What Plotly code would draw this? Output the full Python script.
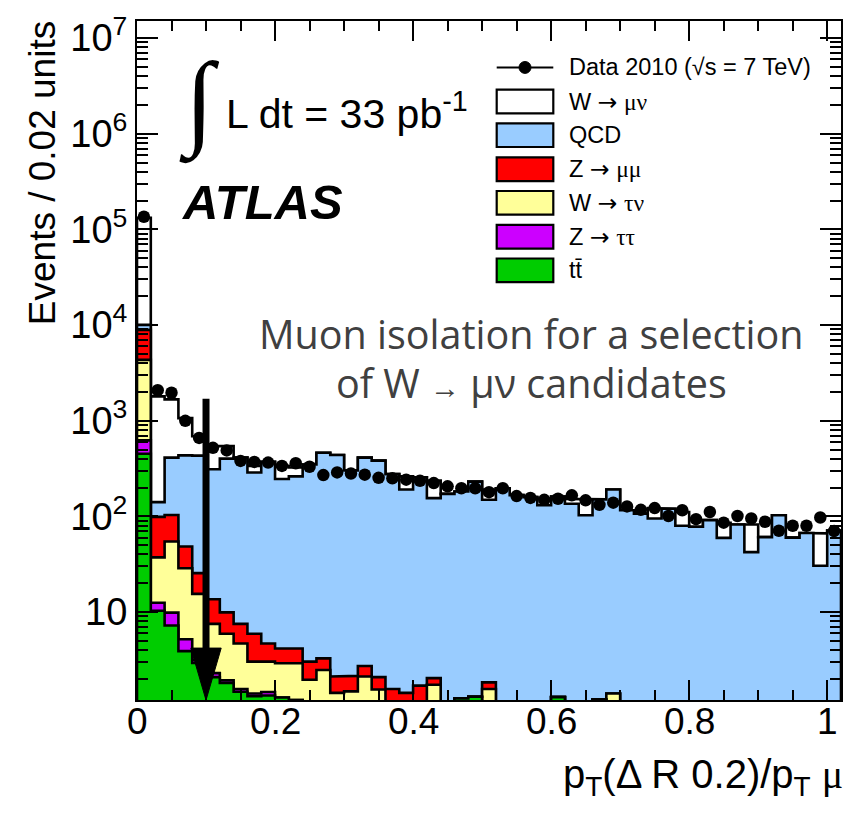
import numpy as np
import plotly.graph_objects as go

# ---------------------------------------------------------------- binning
bin_width = 0.02
n_bins = 51
edges = np.round(np.arange(n_bins + 1) * bin_width, 4)
centers = edges[:-1] + bin_width / 2

# ---------------------------------------------------------------- data (events / bin)
data = [135500, 2085, 1960, 998, 661, 521, 489, 380, 371, 365,
        337, 359, 330, 270, 288, 281, 273, 253, 250, 242,
        236, 223, 206, 197, 197, 179, 197, 163, 156, 149,
        153, 166, 147, 132, 139, 127, 117, 122, 101, 116,
        93.6, 111, 85.9, 101, 95, 87.8, 70.8, 79.8, 79.8, 97.3,
        70.3]

# ---------------------------------------------------------------- expectations (events / bin)
wmunu = [122350, 1654, 1260, 630, 257.5, 232, 141, 0, 49, 0,
         91.5, 62, 0, 0, 0, 0, 0, 0, 0, 71,
         0, 81.4, 0, 0, 0, 42, 0, 0, 0, 22,
         0, 17, 47.6, 0, 0, 0, 0, 27.5, 0, 31.4,
         0, 0, 26.1, 0, 39.9, 0, 0, 0, 0, 36,
         0]
qcd = [1137, 42.1, 307.5, 386, 406, 297.4, 392, 403.5, 282, 366.8,
       241.3, 257.8, 345, 459.7, 436.4, 299.9, 408.3, 381, 275, 189.6,
       254.3, 153.2, 171.8, 180.7, 229.4, 147.2, 197, 166.7, 159, 130.6,
       160.3, 135.5, 102.8, 149.2, 189.6, 115.9, 106.9, 94.9, 120.3, 79.8,
       78, 91.4, 59.6, 82.2, 42.3, 60.7, 102.8, 60, 67.1, 30.5,
       71.3]
zmumu = [4588, 61.6, 48.9, 19.7, 10.0, 6.07, 3.99, 2.84, 2.91, 1.66,
         1.25, 1.25, 1.07, 0.80, 0.69, 0.67, 0.61, 0.54, 1.57, 1.43,
         1.70, 0.30, 0, 0, 0, 0.27, 0, 0, 0, 0,
         0, 0, 0, 0, 0, 0, 0, 0, 0, 0,
         0, 0, 0, 0, 0, 0, 0, 0, 0, 0,
         0]
wtaunu = [3702, 24.8, 44.7, 23.5, 12.35, 5.23, 4.01, 3.12, 1.62, 1.57,
          1.63, 1.71, 1.96, 2.48, 1.43, 1.48, 2.12, 1.55, 0, 0,
          0, 1.74, 0, 0, 0, 1.57, 0, 0, 0, 0,
          0, 0, 0, 0, 1.41, 0, 0, 0, 0, 0,
          0, 0, 0, 0, 0, 0, 0, 0, 0, 0,
          0]
ztautau = [171, 2.2, 2.62, 1.29, 0.22, 0.21, 0.12, 0.10, 0.09, 0.12,
           0, 0, 0, 0, 0, 0, 0, 0, 0, 0,
           0, 0, 0, 0, 0, 0, 0, 0, 0, 0,
           0, 0, 0, 0, 0, 0, 0, 0, 0, 0,
           0, 0, 0, 0, 0, 0, 0, 0, 0, 0,
           0]
ttbar = [452, 10.3, 7.24, 3.90, 2.93, 2.09, 1.81, 1.47, 1.32, 1.34,
         1.28, 1.2, 0, 0, 0, 0, 0, 0, 0, 0,
         0, 0, 0, 1.25, 1.3, 0, 0, 0, 0, 0,
         1.29, 0, 0, 1.22, 0, 0, 0, 0, 0, 0,
         0, 0, 0, 0, 0, 0, 0, 0, 0, 0,
         0]

# labels rendered with a wide arrow and serif greek letters
ARROW = "<span style='font-family:DejaVu Sans'>\u2192</span>"


def greek(s):
    return "<span style='font-family:Liberation Serif'>" + s + "</span>"


# stacking order, bottom to top: (key, legend label, values, colour)
samples = [
    ("ttbar", "tt\u0304", ttbar, "#00cc00"),
    ("ztautau", "Z " + ARROW + " " + greek("\u03c4\u03c4"), ztautau, "#cc00ff"),
    ("wtaunu", "W " + ARROW + " " + greek("\u03c4\u03bd"), wtaunu, "#ffff99"),
    ("zmumu", "Z " + ARROW + " " + greek("\u03bc\u03bc"), zmumu, "#ff0000"),
    ("qcd", "QCD", qcd, "#99ccff"),
    ("wmunu", "W " + ARROW + " " + greek("\u03bc\u03bd"), wmunu, "#ffffff"),
]
legend_order = ["wmunu", "qcd", "zmumu", "wtaunu", "ztautau", "ttbar"]

# isolation cut arrow
cut_value = 0.1
arrow_top = 1700
arrow_head_base = 4.2
arrow_tip = 1.2
arrow_head_halfwidth = 0.022

# axis ticks
x_ticks = [0, 0.2, 0.4, 0.6, 0.8, 1.0]
x_tick_text = ["0", "0.2", "0.4", "0.6", "0.8", "1"]
y_ticks = [10, 1e2, 1e3, 1e4, 1e5, 1e6, 1e7]
y_tick_text = ["10", "10<sup>2</sup>", "10<sup>3</sup>", "10<sup>4</sup>",
               "10<sup>5</sup>", "10<sup>6</sup>", "10<sup>7</sup>"]

# ---------------------------------------------------------------- geometry
W_FIG, H_FIG = 855, 815
ML, MR, MT, MB = 137, 14, 13, 115
PW, PH = W_FIG - ML - MR, H_FIG - MT - MB
Y_LOG_RANGE = [0.0805, 7.1785]
FLOOR = 1e-3  # below the visible range, closes the filled outlines


def px(x):
    return (x - ML) / PW


def py(y):
    return 1 - (y - MT) / PH


def step_outline(values):
    v = np.maximum(np.asarray(values, dtype=float), FLOOR)
    xs, ys = [edges[0]], [FLOOR]
    for i in range(n_bins):
        xs += [edges[i], edges[i + 1]]
        ys += [v[i], v[i]]
    xs.append(edges[-1])
    ys.append(FLOOR)
    return xs, ys


fig = go.Figure()

# cumulative stack, drawn from the top layer downward
cumulative = np.cumsum([np.asarray(s[2], dtype=float) for s in samples], axis=0)
for k in range(len(samples) - 1, -1, -1):
    xs, ys = step_outline(cumulative[k])
    fig.add_trace(go.Scatter(
        x=xs, y=ys, mode="lines", fill="toself", fillcolor=samples[k][3],
        line=dict(color="black", width=2.6), hoverinfo="skip", showlegend=False,
    ))

# cut arrow
fig.add_trace(go.Scatter(
    x=[cut_value, cut_value], y=[arrow_top, arrow_head_base], mode="lines",
    line=dict(color="black", width=7), hoverinfo="skip", showlegend=False,
))
fig.add_trace(go.Scatter(
    x=[cut_value - arrow_head_halfwidth, cut_value + arrow_head_halfwidth, cut_value,
       cut_value - arrow_head_halfwidth],
    y=[arrow_head_base, arrow_head_base, arrow_tip, arrow_head_base],
    mode="lines", fill="toself", fillcolor="black",
    line=dict(color="black", width=1), hoverinfo="skip", showlegend=False,
))

# data points
fig.add_trace(go.Scatter(
    x=centers, y=data, mode="markers",
    marker=dict(color="black", size=12.5, symbol="circle"),
    hoverinfo="skip", showlegend=False, cliponaxis=False,
))

# ---------------------------------------------------------------- axes
minor_y = [m * 10 ** e for e in range(0, 8) for m in range(2, 10)]
fig.update_xaxes(
    range=[0, 1.02], showgrid=False, zeroline=False,
    showline=True, linecolor="black", linewidth=2, mirror="allticks",
    ticks="inside", ticklen=20, tickwidth=2, tickcolor="black",
    tickvals=x_ticks, showticklabels=False,
    minor=dict(ticks="inside", ticklen=10, tickwidth=2, tickcolor="black",
               dtick=0.05, showgrid=False),
)
fig.update_yaxes(
    type="log", range=Y_LOG_RANGE, showgrid=False, zeroline=False,
    showline=True, linecolor="black", linewidth=2, mirror="allticks",
    ticks="inside", ticklen=21, tickwidth=2, tickcolor="black",
    tickvals=y_ticks, ticktext=y_tick_text,
    tickfont=dict(size=38, family="Liberation Sans", color="black"),
    minor=dict(ticks="inside", ticklen=11, tickwidth=2, tickcolor="black",
               tickvals=minor_y, showgrid=False),
)

# ---------------------------------------------------------------- text & legend
ann = []
shapes = []
for xv, xt in zip(x_ticks, x_tick_text):
    ann.append(dict(text=xt, x=xv, y=py(722), xref="x", yref="paper",
                    xanchor="center", yanchor="middle", showarrow=False,
                    font=dict(size=37, family="Liberation Sans", color="black")))
ann.append(dict(text="Events / 0.02 units", textangle=-90, x=px(42), y=py(167),
                xref="paper", yref="paper", xanchor="center", yanchor="middle",
                showarrow=False, font=dict(size=37, family="Liberation Sans", color="black")))
ann.append(dict(text="p<sub>T</sub>(\u0394 R 0.2)/p<sub>T</sub> " + greek("\u03bc"),
                x=px(845), y=py(778),
                xref="paper", yref="paper", xanchor="right", yanchor="middle",
                showarrow=False, font=dict(size=40, family="Liberation Sans", color="black")))
ann.append(dict(text="\u222b", x=px(199), y=py(95), xref="paper", yref="paper",
                xanchor="center", yanchor="middle", showarrow=False,
                font=dict(size=105, family="Liberation Serif", color="black")))
ann.append(dict(text="L dt = 33 pb<sup>-1</sup>", x=px(224), y=py(104), xref="paper",
                yref="paper", xanchor="left", yanchor="middle", showarrow=False,
                font=dict(size=41, family="Liberation Sans", color="black")))
ann.append(dict(text="<b><i>ATLAS</i></b>", x=px(180), y=py(196), xref="paper",
                yref="paper", xanchor="left", yanchor="middle", showarrow=False,
                font=dict(size=49, family="Liberation Sans", color="black")))
ann.append(dict(text="Muon isolation for a selection", x=px(531), y=py(330), xref="paper",
                yref="paper", xanchor="center", yanchor="middle", showarrow=False,
                font=dict(size=39.5, family="Open Sans", color="#404040")))
ann.append(dict(text="of W <span style='font-size:30px'>\u2192</span> \u03bc\u03bd candidates",
                x=px(531), y=py(379), xref="paper",
                yref="paper", xanchor="center", yanchor="middle", showarrow=False,
                font=dict(size=39.5, family="Open Sans", color="#404040")))

# legend
LEG_X0, LEG_X1, LEG_TX = 496.7, 553.3, 567
row_y = [60, 94.5, 128.5, 163, 197, 231.3, 265.3]
legend_font = dict(size=23.5, family="Liberation Sans", color="black")
shapes.append(dict(type="line", xref="paper", yref="paper", x0=px(LEG_X0), x1=px(LEG_X1),
                   y0=py(row_y[0]), y1=py(row_y[0]), line=dict(color="black", width=2)))
mx = (LEG_X0 + LEG_X1) / 2
shapes.append(dict(type="circle", xref="paper", yref="paper", x0=px(mx - 6), x1=px(mx + 6),
                   y0=py(row_y[0] + 6), y1=py(row_y[0] - 6), fillcolor="black",
                   line=dict(color="black", width=1)))
ann.append(dict(text="Data 2010 (\u221As = 7 TeV)", x=px(LEG_TX), y=py(row_y[0]),
                xref="paper", yref="paper", xanchor="left", yanchor="middle",
                showarrow=False, font=legend_font))
by_key = {s[0]: s for s in samples}
for i, key in enumerate(legend_order):
    _, label, _, colour = by_key[key]
    cy = row_y[i + 1]
    shapes.append(dict(type="rect", xref="paper", yref="paper", x0=px(LEG_X0), x1=px(LEG_X1),
                       y0=py(cy + 12), y1=py(cy - 12), fillcolor=colour,
                       line=dict(color="black", width=2.2)))
    ann.append(dict(text=label, x=px(LEG_TX), y=py(cy), xref="paper", yref="paper",
                    xanchor="left", yanchor="middle", showarrow=False, font=legend_font))

fig.update_layout(
    width=W_FIG, height=H_FIG, autosize=False,
    margin=dict(l=ML, r=MR, t=MT, b=MB),
    paper_bgcolor="white", plot_bgcolor="white",
    font=dict(family="Liberation Sans", color="black"),
    showlegend=False, annotations=ann, shapes=shapes,
)

fig.write_html("out.html")
